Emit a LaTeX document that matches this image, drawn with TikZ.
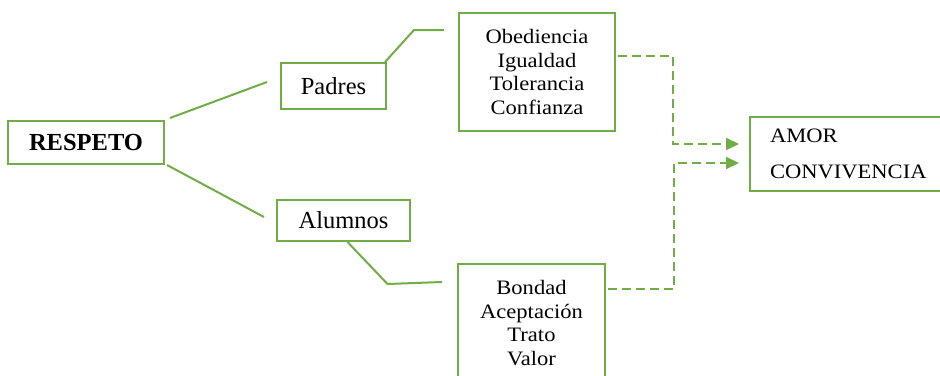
\documentclass[tikz,border=0pt]{standalone}
\usepackage{fontspec}
\setmainfont{Liberation Serif}
\newfontfamily\wideserif[FakeStretch=1.1]{Liberation Serif}
\usetikzlibrary{arrows.meta}
\definecolor{leaf}{RGB}{112,173,71}

\begin{document}
\begin{tikzpicture}[x=1pt,y=-1pt,
    box/.style={draw=leaf,line width=2pt,inner sep=0pt,align=center},
    link/.style={draw=leaf,line width=2pt},
    flow/.style={draw=leaf,line width=2pt,dash pattern=on 9pt off 5pt,
                 -{Triangle[length=13pt,width=12pt,fill=leaf]}},
    big/.style={font=\fontsize{24.5}{28}\selectfont},
    small/.style={font=\wideserif\fontsize{20.5}{23.5}\selectfont}]
    \useasboundingbox (0,0) rectangle (940,375);
    \clip (0,0) rectangle (940,375);
    % boxes
    \node[box,big,minimum width=156pt,minimum height=43pt] (respeto) at (86,142.5) {\bfseries RESPETO};
    \node[box,big,minimum width=105pt,minimum height=46pt] (padres) at (333.5,86) {Padres};
    \node[box,big,minimum width=133pt,minimum height=41pt] (alumnos) at (343.5,220.5) {Alumnos};
    \node[box,small,minimum width=156pt,minimum height=118pt] (obed) at (537,72)
        {Obediencia\\Igualdad\\Tolerancia\\Confianza};
    \node[box,small,minimum width=147pt,minimum height=118pt] (bondad) at (531.5,323)
        {Bondad\\Aceptación\\Trato\\Valor};
    \node[box,align=left,text width=170pt,inner xsep=20pt,minimum height=74pt,
          font=\wideserif\fontsize{20.5}{36}\selectfont] (amor) at (855,154)
        {AMOR\\CONVIVENCIA};
    % solid links
    \draw[link] ([xshift=5pt,yshift=2pt]respeto.north east) -- ([xshift=-13pt,yshift=4pt]padres.west);
    \draw[link] ([xshift=2pt]respeto.south east) -- ([xshift=-12pt,yshift=3.5pt]alumnos.west);
    \draw[link] ([xshift=-2pt]padres.north east) -- ++(29,-32) -- ([xshift=-14pt,yshift=-18pt]obed.north west);
    \draw[link] ([xshift=4pt]alumnos.south) -- ++(40,42) -- ([xshift=-15pt,yshift=-19pt]bondad.north west);
    % dashed arrows
    \draw[flow] ([xshift=2pt,yshift=16pt]obed.east) -- ++(55,0) |- ([xshift=-10pt,yshift=10pt]amor.west);
    \draw[flow] ([xshift=2pt,yshift=34pt]bondad.east) -- ++(66,0) |- ([xshift=-10pt,yshift=-9pt]amor.west);
\end{tikzpicture}
\end{document}
